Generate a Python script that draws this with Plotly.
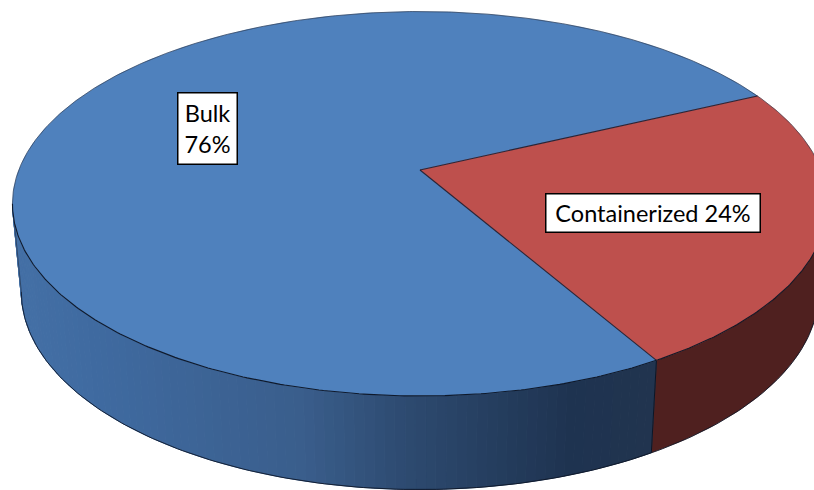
import numpy as np
import plotly.graph_objects as go

# ---- data ----
categories = ["Bulk", "Containerized"]
shares = [76.3, 23.7]
label_texts = ["Bulk<br>76%", "Containerized 24%"]

# ---- geometry of the tilted disc (pixel space of the canvas) ----
W, H = 814, 490
CX, APEX_Y = 420, 170
A_TOP, B_TOP = 401.2, 186.3
A_LOW, B_LOW, Y_LOW = 392.5, 191.7, 257.0
PERSP = -0.1756
RED_START_DEG = -25.3   # clockwise on screen, where the Containerized slice begins


def top_rim(phi):
    u, v = np.cos(phi), np.sin(phi)
    w = 1 + PERSP * v
    return CX + A_TOP * u / w, APEX_Y + B_TOP * v / w


def low_rim(phi):
    u, v = np.cos(phi), np.sin(phi)
    w = 1 + PERSP * v
    return CX + A_LOW * u / w, Y_LOW + B_LOW * v / w


# ---- styles ----
TOP_COLORS = {"Bulk": "#4F81BD", "Containerized": "#BE504D"}
RED_SIDE = "#4F201F"
SIDE_STOPS_X = [15, 100, 300, 407, 570, 655]
SIDE_STOPS_RGB = [(68, 112, 166), (63, 106, 160), (58, 94, 140), (45, 74, 112), (30, 51, 80), (33, 52, 79)]
EDGE = "rgba(12,20,36,0.95)"
REAR_EDGE = "rgba(35,45,65,0.75)"
BORDER_EDGE = "rgba(25,30,50,0.9)"

# ---- slice angles come from the shares ----
red_sweep = np.deg2rad(shares[1] / sum(shares) * 360)
red_a = np.deg2rad(RED_START_DEG)
red_b = red_a + red_sweep
blue_a, blue_b = red_b, red_a + 2 * np.pi
edge_phi = np.arcsin(-PERSP)      # silhouette angle of the side wall
left_phi = np.pi - edge_phi
right_phi = edge_phi

fig = go.Figure()


def add_poly(xs, ys, fill, line, width):
    fig.add_trace(go.Scatter(x=xs, y=ys, mode="lines", fill="toself", fillcolor=fill,
                             line=dict(color=line, width=width), hoverinfo="skip", showlegend=False))


def add_line(xs, ys, color=EDGE, width=1.0):
    fig.add_trace(go.Scatter(x=xs, y=ys, mode="lines", line=dict(color=color, width=width),
                             hoverinfo="skip", showlegend=False))


# side wall, red part
phis = np.linspace(right_phi, red_b, 60)
tx, ty = top_rim(phis)
lx, ly = low_rim(phis)
add_poly(np.r_[tx, lx[::-1], tx[0]], np.r_[ty, ly[::-1], ty[0]], RED_SIDE, RED_SIDE, 0.5)

# side wall, blue part: narrow bands shaded by screen x
edges = np.linspace(red_b, left_phi, 91)
for p0, p1 in zip(edges[:-1], edges[1:]):
    t0x, t0y = top_rim(p0)
    t1x, t1y = top_rim(p1)
    l0x, l0y = low_rim(p0)
    l1x, l1y = low_rim(p1)
    xm = (t0x + t1x + l0x + l1x) / 4
    rgb = [int(round(np.interp(xm, SIDE_STOPS_X, [s[i] for s in SIDE_STOPS_RGB]))) for i in range(3)]
    col = f"rgb({rgb[0]},{rgb[1]},{rgb[2]})"
    add_poly([t0x, t1x, l1x, l0x, t0x], [t0y, t1y, l1y, l0y, t0y], col, col, 1)

# lower rim and wall edges
phis = np.linspace(right_phi, left_phi, 200)
lx, ly = low_rim(phis)
add_line(lx, ly, EDGE, 0.9)
tx0, ty0 = top_rim(red_b)
lx0, ly0 = low_rim(red_b)
add_line([tx0, lx0], [ty0, ly0], EDGE, 1.0)
tx1, ty1 = top_rim(left_phi)
lx1, ly1 = low_rim(left_phi)
add_line([tx1, lx1], [ty1, ly1], REAR_EDGE, 0.8)

# top faces (fills first, then their edges)
for name, a, b in [("Bulk", blue_a, blue_b), ("Containerized", red_a, red_b)]:
    phis = np.linspace(a, b, 300)
    x, y = top_rim(phis)
    add_poly(np.r_[CX, x, CX], np.r_[APEX_Y, y, APEX_Y], TOP_COLORS[name], TOP_COLORS[name], 0.5)

# rear rim (lighter), front rim (darker), and the two slice borders
phis = np.linspace(left_phi, 2 * np.pi + right_phi, 400)
x, y = top_rim(phis)
add_line(x, y, REAR_EDGE, 0.8)
phis = np.linspace(right_phi, left_phi, 300)
x, y = top_rim(phis)
add_line(x, y, EDGE, 1.1)
for p in (red_a, red_b):
    x, y = top_rim(p)
    add_line([CX, x], [APEX_Y, y], BORDER_EDGE, 1.1)

# labels
label_boxes = [(207, 128, 58, 70), (652.5, 212.5, 213, 37)]
for text, (bx, by, bw, bh) in zip(label_texts, label_boxes):
    fig.add_annotation(x=bx, y=by, xref="x", yref="y", text=text, showarrow=False,
                       width=bw, height=bh, bgcolor="white", bordercolor="black", borderwidth=1.5,
                       borderpad=0, align="center", valign="middle",
                       font=dict(family="Lato, Carlito, sans-serif", size=23.5, color="black"))

fig.update_layout(width=W, height=H, margin=dict(l=0, r=0, t=0, b=0),
                  paper_bgcolor="white", plot_bgcolor="white", showlegend=False,
                  xaxis=dict(range=[0, W], visible=False, fixedrange=True),
                  yaxis=dict(range=[H, 0], visible=False, fixedrange=True))

fig.write_html("out.html", config={"displayModeBar": False},
               post_script="document.body.style.margin='0';document.body.style.overflow='hidden';")
